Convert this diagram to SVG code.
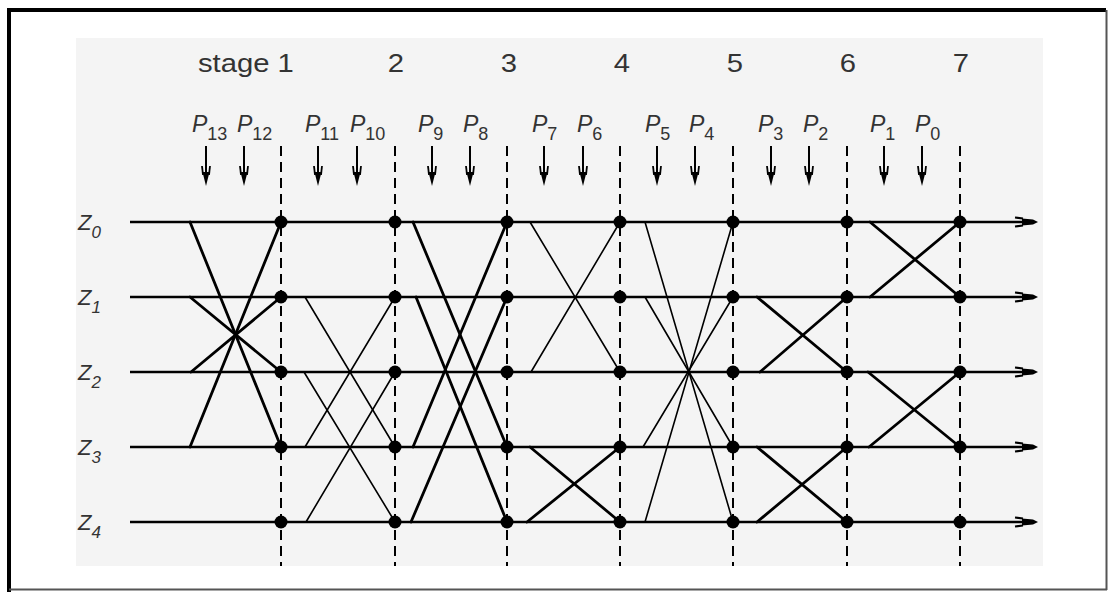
<svg xmlns="http://www.w3.org/2000/svg" xmlns:xlink="http://www.w3.org/1999/xlink" width="1109" height="592" viewBox="0 0 1109 592">
<style>
.lbl{font-family:"Liberation Sans",Arial,sans-serif;fill:#333}
.it{font-style:italic}
.row{stroke:#000;stroke-width:2.5;fill:none}
.col{stroke:#000;stroke-width:2;stroke-dasharray:10 6;fill:none}
.thick{stroke:#000;stroke-width:2.8;fill:none;stroke-linecap:round}
.thin{stroke:#000;stroke-width:1.6;fill:none;stroke-linecap:round}
.dot{fill:#000}
</style>
<defs>
<g id="darr">
<line x1="0" y1="0" x2="0" y2="30" stroke="#000" stroke-width="2"/>
<line x1="-4" y1="20" x2="-3" y2="29" stroke="#000" stroke-width="1.8"/>
<line x1="4" y1="20" x2="3" y2="29" stroke="#000" stroke-width="1.8"/>
<polygon points="-3.5,26 0,40 3.5,26" fill="#000"/>
</g>
<g id="rarr">
<line x1="-23" y1="-4.5" x2="-15" y2="-3.5" stroke="#000" stroke-width="2"/>
<line x1="-23" y1="4.5" x2="-15" y2="3.5" stroke="#000" stroke-width="2"/>
<polygon points="-16,-3.5 -5,-2.5 0,0 -5,2.5 -16,3.5" fill="#000"/>
</g>
</defs>
<rect x="0" y="0" width="1109" height="592" fill="#fff"/>
<rect x="76" y="38" width="967" height="528" fill="#f4f4f4"/>
<g id="frame">
<line x1="7" y1="10" x2="1106" y2="10" stroke="#000" stroke-width="4"/>
<line x1="9" y1="8" x2="9" y2="592" stroke="#000" stroke-width="4"/>
<line x1="1106.5" y1="10" x2="1106.5" y2="590" stroke="#555" stroke-width="2"/>
<line x1="9" y1="589.5" x2="1107" y2="589.5" stroke="#555" stroke-width="2"/>
</g>
<g id="stage-labels" class="lbl" font-size="25">
<text transform="translate(198,72) scale(1.17,1)">stage 1</text>
<text transform="translate(396,72) scale(1.17,1)" text-anchor="middle">2</text>
<text transform="translate(509,72) scale(1.17,1)" text-anchor="middle">3</text>
<text transform="translate(622,72) scale(1.17,1)" text-anchor="middle">4</text>
<text transform="translate(735,72) scale(1.17,1)" text-anchor="middle">5</text>
<text transform="translate(848,72) scale(1.17,1)" text-anchor="middle">6</text>
<text transform="translate(961,72) scale(1.17,1)" text-anchor="middle">7</text>
</g>
<g id="p-labels" class="lbl" font-size="23">
<text x="192" y="132"><tspan class="it">P</tspan><tspan dy="8" font-size="18">13</tspan></text>
<text x="237" y="132"><tspan class="it">P</tspan><tspan dy="8" font-size="18">12</tspan></text>
<text x="305" y="132"><tspan class="it">P</tspan><tspan dy="8" font-size="18">11</tspan></text>
<text x="350" y="132"><tspan class="it">P</tspan><tspan dy="8" font-size="18">10</tspan></text>
<text x="418" y="132"><tspan class="it">P</tspan><tspan dy="8" font-size="18">9</tspan></text>
<text x="463" y="132"><tspan class="it">P</tspan><tspan dy="8" font-size="18">8</tspan></text>
<text x="532" y="132"><tspan class="it">P</tspan><tspan dy="8" font-size="18">7</tspan></text>
<text x="577" y="132"><tspan class="it">P</tspan><tspan dy="8" font-size="18">6</tspan></text>
<text x="645" y="132"><tspan class="it">P</tspan><tspan dy="8" font-size="18">5</tspan></text>
<text x="689" y="132"><tspan class="it">P</tspan><tspan dy="8" font-size="18">4</tspan></text>
<text x="758" y="132"><tspan class="it">P</tspan><tspan dy="8" font-size="18">3</tspan></text>
<text x="803" y="132"><tspan class="it">P</tspan><tspan dy="8" font-size="18">2</tspan></text>
<text x="870" y="132"><tspan class="it">P</tspan><tspan dy="8" font-size="18">1</tspan></text>
<text x="915" y="132"><tspan class="it">P</tspan><tspan dy="8" font-size="18">0</tspan></text>
</g>
<g id="p-arrows">
<use xlink:href="#darr" x="206" y="146"/>
<use xlink:href="#darr" x="244" y="146"/>
<use xlink:href="#darr" x="318" y="146"/>
<use xlink:href="#darr" x="357" y="146"/>
<use xlink:href="#darr" x="432" y="146"/>
<use xlink:href="#darr" x="470" y="146"/>
<use xlink:href="#darr" x="544" y="146"/>
<use xlink:href="#darr" x="583" y="146"/>
<use xlink:href="#darr" x="657" y="146"/>
<use xlink:href="#darr" x="695" y="146"/>
<use xlink:href="#darr" x="771" y="146"/>
<use xlink:href="#darr" x="809" y="146"/>
<use xlink:href="#darr" x="884" y="146"/>
<use xlink:href="#darr" x="922" y="146"/>
</g>
<g id="z-labels" class="lbl it" font-size="22">
<text x="78" y="230">Z<tspan dy="8" font-size="17">0</tspan></text>
<text x="78" y="305">Z<tspan dy="8" font-size="17">1</tspan></text>
<text x="78" y="380">Z<tspan dy="8" font-size="17">2</tspan></text>
<text x="78" y="455">Z<tspan dy="8" font-size="17">3</tspan></text>
<text x="78" y="530">Z<tspan dy="8" font-size="17">4</tspan></text>
</g>
<g id="columns">
<line class="col" x1="281" y1="146" x2="281" y2="566"/>
<line class="col" x1="395" y1="146" x2="395" y2="566"/>
<line class="col" x1="507" y1="146" x2="507" y2="566"/>
<line class="col" x1="620" y1="146" x2="620" y2="566"/>
<line class="col" x1="733" y1="146" x2="733" y2="566"/>
<line class="col" x1="847" y1="146" x2="847" y2="566"/>
<line class="col" x1="960" y1="146" x2="960" y2="566"/>
</g>
<g id="rows">
<line class="row" x1="130" y1="222" x2="1032" y2="222"/>
<line class="row" x1="130" y1="297" x2="1032" y2="297"/>
<line class="row" x1="130" y1="372" x2="1032" y2="372"/>
<line class="row" x1="130" y1="447" x2="1032" y2="447"/>
<line class="row" x1="130" y1="522" x2="1032" y2="522"/>
<use xlink:href="#rarr" x="1038" y="222"/>
<use xlink:href="#rarr" x="1038" y="297"/>
<use xlink:href="#rarr" x="1038" y="372"/>
<use xlink:href="#rarr" x="1038" y="447"/>
<use xlink:href="#rarr" x="1038" y="522"/>
</g>
<g id="connectors">
<line class="thick" x1="190" y1="222" x2="281" y2="447"/>
<line class="thick" x1="190" y1="447" x2="281" y2="222"/>
<line class="thick" x1="190" y1="297" x2="281" y2="372"/>
<line class="thick" x1="191" y1="372" x2="281" y2="297"/>
<line class="thin" x1="305" y1="297" x2="395" y2="447"/>
<line class="thin" x1="305" y1="447" x2="395" y2="297"/>
<line class="thin" x1="304" y1="372" x2="395" y2="522"/>
<line class="thin" x1="306" y1="522" x2="395" y2="372"/>
<line class="thick" x1="413" y1="222" x2="507" y2="447"/>
<line class="thick" x1="413" y1="447" x2="507" y2="222"/>
<line class="thick" x1="416" y1="297" x2="507" y2="522"/>
<line class="thick" x1="411" y1="522" x2="507" y2="297"/>
<line class="thin" x1="530" y1="222" x2="620" y2="372"/>
<line class="thin" x1="531" y1="372" x2="620" y2="222"/>
<line class="thick" x1="530" y1="447" x2="620" y2="522"/>
<line class="thick" x1="527" y1="522" x2="620" y2="447"/>
<line class="thin" x1="645" y1="222" x2="733" y2="522"/>
<line class="thin" x1="645" y1="522" x2="733" y2="222"/>
<line class="thin" x1="645" y1="297" x2="733" y2="447"/>
<line class="thin" x1="643" y1="447" x2="733" y2="297"/>
<line class="thick" x1="757" y1="297" x2="847" y2="372"/>
<line class="thick" x1="760" y1="372" x2="847" y2="297"/>
<line class="thick" x1="757" y1="447" x2="847" y2="522"/>
<line class="thick" x1="757" y1="522" x2="847" y2="447"/>
<line class="thick" x1="870" y1="222" x2="960" y2="297"/>
<line class="thick" x1="870" y1="297" x2="960" y2="222"/>
<line class="thick" x1="868" y1="372" x2="960" y2="447"/>
<line class="thick" x1="869" y1="447" x2="960" y2="372"/>
</g>
<g id="nodes" class="dot">
<g id="n1"><circle cx="281" cy="222" r="6.5"/><circle cx="281" cy="297" r="6.5"/><circle cx="281" cy="372" r="6.5"/><circle cx="281" cy="447" r="6.5"/><circle cx="281" cy="522" r="6.5"/></g>
<g id="n2"><circle cx="395" cy="222" r="6.5"/><circle cx="395" cy="297" r="6.5"/><circle cx="395" cy="372" r="6.5"/><circle cx="395" cy="447" r="6.5"/><circle cx="395" cy="522" r="6.5"/></g>
<g id="n3"><circle cx="507" cy="222" r="6.5"/><circle cx="507" cy="297" r="6.5"/><circle cx="507" cy="372" r="6.5"/><circle cx="507" cy="447" r="6.5"/><circle cx="507" cy="522" r="6.5"/></g>
<g id="n4"><circle cx="620" cy="222" r="6.5"/><circle cx="620" cy="297" r="6.5"/><circle cx="620" cy="372" r="6.5"/><circle cx="620" cy="447" r="6.5"/><circle cx="620" cy="522" r="6.5"/></g>
<g id="n5"><circle cx="733" cy="222" r="6.5"/><circle cx="733" cy="297" r="6.5"/><circle cx="733" cy="372" r="6.5"/><circle cx="733" cy="447" r="6.5"/><circle cx="733" cy="522" r="6.5"/></g>
<g id="n6"><circle cx="847" cy="222" r="6.5"/><circle cx="847" cy="297" r="6.5"/><circle cx="847" cy="372" r="6.5"/><circle cx="847" cy="447" r="6.5"/><circle cx="847" cy="522" r="6.5"/></g>
<g id="n7"><circle cx="960" cy="222" r="6.5"/><circle cx="960" cy="297" r="6.5"/><circle cx="960" cy="372" r="6.5"/><circle cx="960" cy="447" r="6.5"/><circle cx="960" cy="522" r="6.5"/></g>
</g>
</svg>
